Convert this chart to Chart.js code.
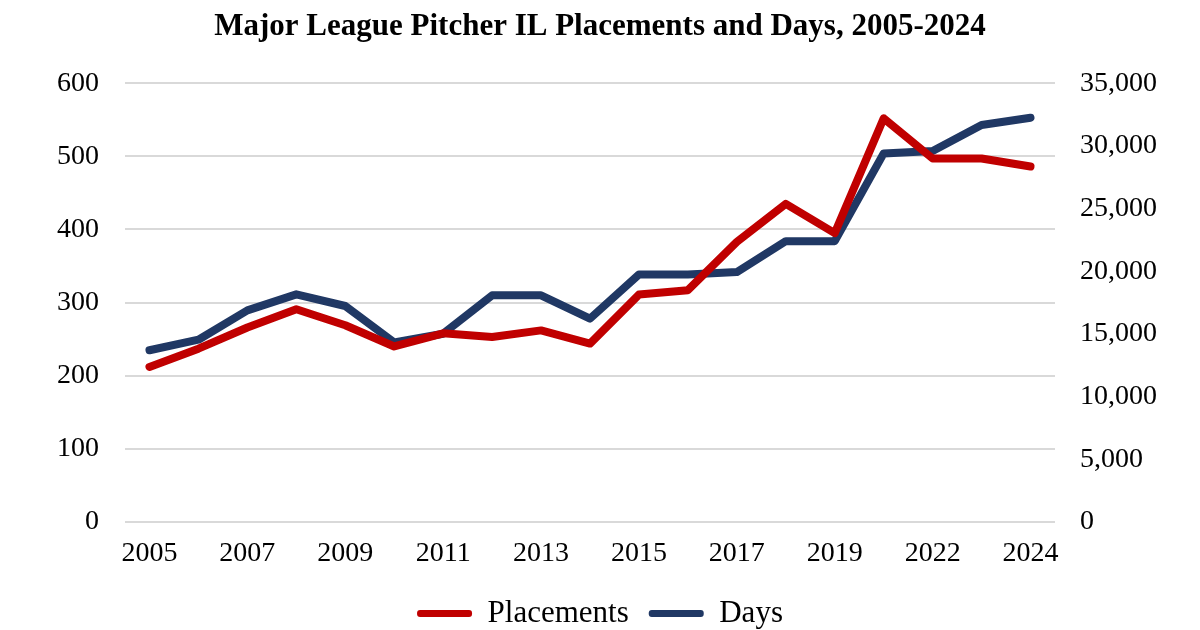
<!DOCTYPE html>
<html>
<head>
<meta charset="utf-8">
<script src="https://cdn.jsdelivr.net/npm/chart.js@4/dist/chart.umd.min.js"></script>
<style>
  html, body { margin: 0; padding: 0; background: #fff; }
  #wrap { width: 1200px; height: 630px; }
</style>
</head>
<body>
<div id="wrap"><canvas id="myChart" width="1200" height="630"></canvas></div>
<script>
// data
var years = ['2005', '2006', '2007', '2008', '2009', '2010', '2011', '2012', '2013', '2014',
  '2015', '2016', '2017', '2018', '2019', '2021', '2022', '2023', '2024']
var placements = [212, 237, 266, 291, 269, 240, 258, 253, 262, 244,
  311, 317, 383, 435, 395, 552, 497, 497, 486]
var days = [13700, 14540, 16880, 18160, 17230, 14330, 15020, 18080, 18080, 16220,
  19740, 19740, 19940, 22400, 22400, 29400, 29590, 31660, 32250]
var leftTicks = [0, 100, 200, 300, 400, 500, 600]
var rightTicks = [0, 5000, 10000, 15000, 20000, 25000, 30000, 35000]

var red = '#C00000'
var navy = '#203864'
var serif = '"Liberation Serif", "Times New Roman", serif'

var ctx = document.getElementById('myChart')
var myLineChart = new Chart(ctx, {
  type: 'line',
  data: {
    labels: years,
    datasets: [
      {
        label: 'Placements',
        data: placements,
        yAxisID: 'y',
        borderColor: red,
        backgroundColor: red,
        borderWidth: 8,
        pointRadius: 0,
        tension: 0,
        borderJoinStyle: 'round',
        borderCapStyle: 'round'
      },
      {
        label: 'Days',
        data: days,
        yAxisID: 'y1',
        borderColor: navy,
        backgroundColor: navy,
        borderWidth: 8,
        pointRadius: 0,
        tension: 0,
        borderJoinStyle: 'round',
        borderCapStyle: 'round'
      }
    ]
  },
  options: {
    responsive: false,
    animation: false,
    layout: { padding: { left: 0, right: 0, top: 0, bottom: -9 } },
    plugins: {
      tooltip: { enabled: false },
      title: {
        display: true,
        text: 'Major League Pitcher IL Placements and Days, 2005-2024',
        color: '#000',
        font: { family: serif, size: 31, weight: 'bold' },
        padding: { top: 8, bottom: 38 }
      },
      legend: {
        position: 'bottom',
        labels: {
          color: '#000',
          font: { family: serif, size: 31 },
          boxWidth: 55,
          boxHeight: 7,
          padding: 20,
          useBorderRadius: true,
          borderRadius: 3,
          generateLabels: function (chart) {
            var items = Chart.defaults.plugins.legend.labels.generateLabels(chart)
            items.forEach(function (it) {
              it.lineWidth = 0
            })
            return items
          }
        }
      }
    },
    scales: {
      x: {
        offset: true,
        grid: { display: false, drawTicks: false },
        border: { display: false },
        ticks: {
          autoSkip: false,
          maxRotation: 0,
          color: '#000',
          padding: 15,
          font: { family: serif, size: 28 },
          callback: function (val, index) {
            return index % 2 === 0 ? years[index] : ''
          }
        },
        afterFit: function (scale) { scale.height = 56 }
      },
      y: {
        position: 'left',
        min: 0,
        max: 600,
        afterBuildTicks: function (scale) {
          scale.ticks = leftTicks.map(function (v) { return { value: v } })
        },
        afterFit: function (scale) { scale.width = 125 },
        grid: { color: '#d9d9d9', lineWidth: 2, drawTicks: false },
        border: { display: false },
        ticks: {
          color: '#000',
          padding: 26,
          font: { family: serif, size: 28 }
        }
      },
      y1: {
        position: 'right',
        min: 0,
        max: 35000,
        afterBuildTicks: function (scale) {
          scale.ticks = rightTicks.map(function (v) { return { value: v } })
        },
        afterFit: function (scale) { scale.width = 145 },
        grid: { display: false, drawTicks: false },
        border: { display: false },
        ticks: {
          color: '#000',
          padding: 25,
          font: { family: serif, size: 28 },
          callback: function (v) { return v.toLocaleString('en-US') }
        }
      }
    }
  }
})
</script>
</body>
</html>
